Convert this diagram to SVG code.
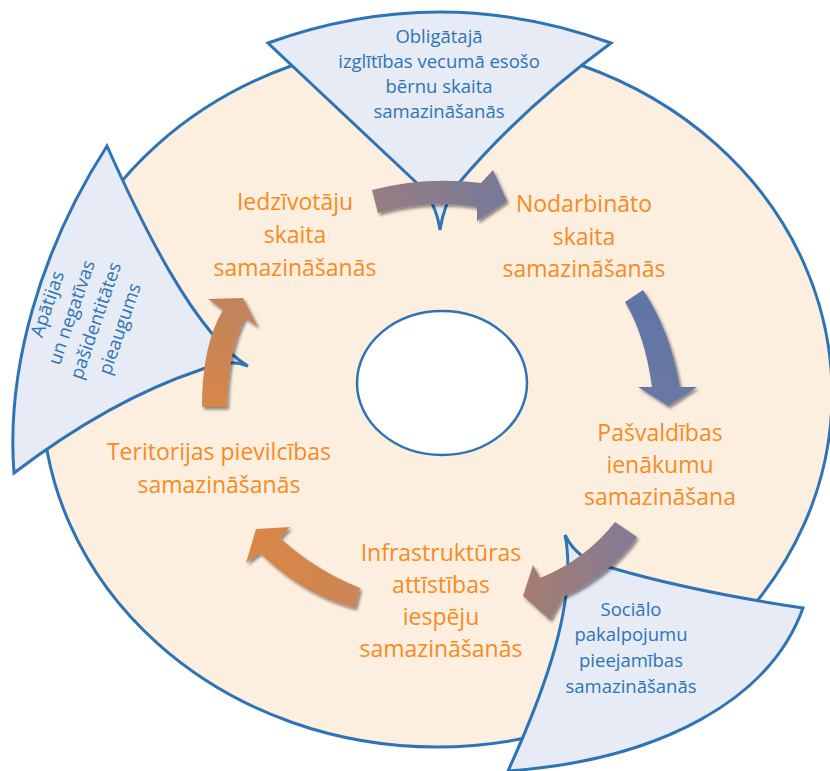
<svg xmlns="http://www.w3.org/2000/svg" width="830" height="771" viewBox="0 0 830 771">
  <defs>
    <style>
      .ring { fill: #FDEFE0; stroke: #2E74B5; stroke-width: 3; }
      .wedge { fill: #E6EBF6; stroke: #2E74B5; stroke-width: 3; stroke-linejoin: miter; }
      .hole { fill: #FFFFFF; stroke: #2E74B5; stroke-width: 2.5; }
      .step { font-family: "Open Sans", "Liberation Sans", sans-serif; font-size: 23px; fill: #F68B1F; text-anchor: middle; }
      .note { font-family: "Open Sans", "Liberation Sans", sans-serif; font-size: 18.5px; fill: #2E74B5; text-anchor: middle; }
      .arrow { filter: url(#shadow); }
    </style>
    <filter id="shadow" x="-20%" y="-20%" width="150%" height="150%">
      <feDropShadow dx="2" dy="2.5" stdDeviation="1.6" flood-color="#000000" flood-opacity="0.45"/>
    </filter>
    <linearGradient id="gTop" x1="372" y1="0" x2="507" y2="0" gradientUnits="userSpaceOnUse">
      <stop offset="0" stop-color="#997D80"/>
      <stop offset="1" stop-color="#76799A"/>
    </linearGradient>
    <linearGradient id="gRight" x1="0" y1="290" x2="0" y2="406" gradientUnits="userSpaceOnUse">
      <stop offset="0" stop-color="#5F74A8"/>
      <stop offset="1" stop-color="#6A78A2"/>
    </linearGradient>
    <linearGradient id="gLowRight" x1="523" y1="0" x2="637" y2="0" gradientUnits="userSpaceOnUse">
      <stop offset="0" stop-color="#A67C6E"/>
      <stop offset="1" stop-color="#837A98"/>
    </linearGradient>
    <linearGradient id="gLowLeft" x1="246" y1="0" x2="360" y2="0" gradientUnits="userSpaceOnUse">
      <stop offset="0" stop-color="#DA8744"/>
      <stop offset="1" stop-color="#CC8555"/>
    </linearGradient>
    <linearGradient id="gLeft" x1="0" y1="407" x2="0" y2="298" gradientUnits="userSpaceOnUse">
      <stop offset="0" stop-color="#D6864A"/>
      <stop offset="1" stop-color="#C2835F"/>
    </linearGradient>
  </defs>

  <!-- outer ring -->
  <ellipse id="ring" class="ring" cx="437" cy="394" rx="395" ry="353"/>

  <!-- side wedges -->
  <g id="wedge-top">
    <path class="wedge" d="M268,43 Q440,-19 611,43 Q520,110 458,184 Q444,203 440,230 Q436,203 420,186 Z"/>
    <text class="note" x="439" y="43">Obligātajā</text>
    <text class="note" x="439" y="68">izglītības vecumā esošo</text>
    <text class="note" x="439" y="93">bērnu skaita</text>
    <text class="note" x="439" y="118">samazināšanās</text>
  </g>

  <g id="wedge-left">
    <path class="wedge" d="M107,146 C140,220 195,335 248,366 Q228,358 200,370 Q110,400 14,473 C6,370 40,250 107,146 Z"/>
    <g transform="translate(85,317) rotate(-71)">
      <text class="note" x="0" y="-33.5">Apātijas</text>
      <text class="note" x="0" y="-8">un negatīvas</text>
      <text class="note" x="0" y="17.5">pašidentitātes</text>
      <text class="note" x="0" y="43">pieaugums</text>
    </g>
  </g>

  <g id="wedge-bottom">
    <path class="wedge" d="M565,535 Q578,562 612,568 C680,588 750,600 803,608 C770,700 660,760 508,771 C545,690 578,600 565,535 Z"/>
    <text class="note" x="631" y="616">Sociālo</text>
    <text class="note" x="631" y="641">pakalpojumu</text>
    <text class="note" x="631" y="667">pieejamības</text>
    <text class="note" x="631" y="693">samazināšanās</text>
  </g>

  <!-- empty centre -->
  <ellipse id="hole" class="hole" cx="442" cy="383" rx="85" ry="72"/>

  <!-- cycle steps -->
  <g id="step-residents">
    <text class="step" x="295" y="210">Iedzīvotāju</text>
    <text class="step" x="295" y="243">skaita</text>
    <text class="step" x="295" y="276">samazināšanās</text>
  </g>
  <g id="step-employed">
    <text class="step" x="584" y="212">Nodarbināto</text>
    <text class="step" x="584" y="245">skaita</text>
    <text class="step" x="584" y="277">samazināšanās</text>
  </g>
  <g id="step-income">
    <text class="step" x="660" y="441">Pašvaldības</text>
    <text class="step" x="660" y="473">ienākumu</text>
    <text class="step" x="660" y="505">samazināšana</text>
  </g>
  <g id="step-infrastructure">
    <text class="step" x="441" y="561">Infrastruktūras</text>
    <text class="step" x="441" y="593">attīstības</text>
    <text class="step" x="441" y="625">iespēju</text>
    <text class="step" x="441" y="657">samazināšanās</text>
  </g>
  <g id="step-attractiveness">
    <text class="step" x="219" y="460">Teritorijas pievilcības</text>
    <text class="step" x="219" y="493">samazināšanās</text>
  </g>

  <!-- connectors: curved block arrows -->
  <g id="connectors">
    <path class="arrow" fill="url(#gTop)" d="M372,190 Q425,176 481,183 L493,170 L507,201 L477,221 L477,207 Q428,199 378,213 Z"/>
    <path class="arrow" fill="url(#gRight)" d="M643,290 Q670,330 680,387 L697,387 L668,406 L638,387 L652,387 Q645,335 625,302 Z"/>
    <path class="arrow" fill="url(#gLowRight)" d="M615,522 Q585,560 540,578 L533,565 L523,596 L550,620 L563,597 Q610,575 637,537 Z"/>
    <path class="arrow" fill="url(#gLowLeft)" d="M360,588 Q315,570 280,538 L290,527 L256,529 L246,563 L260,553 Q303,595 355,608 Z"/>
    <path class="arrow" fill="url(#gLeft)" d="M202,407 Q202,345 223,310 L208,299 L243,298 L258,327 L245,318 Q228,350 227,407 Z"/>
  </g>
</svg>
